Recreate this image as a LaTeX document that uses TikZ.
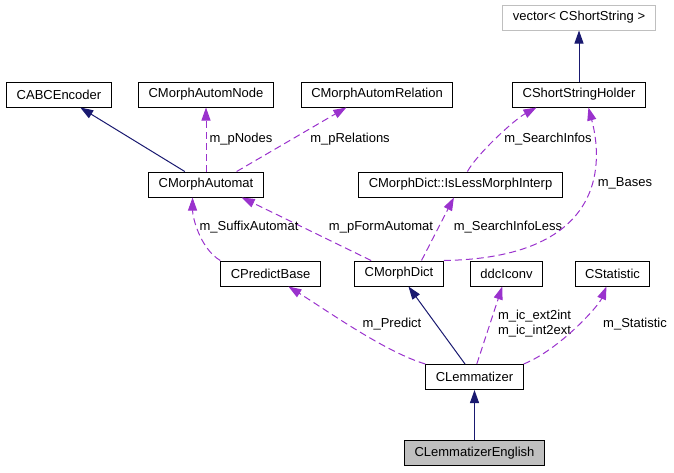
\documentclass[tikz,border=0pt]{standalone}
\usepackage{fontspec}
\setmainfont{Liberation Sans}
\usetikzlibrary{positioning,arrows.meta}
\definecolor{inhblue}{RGB}{25,25,112}
\definecolor{usepurple}{RGB}{154,50,205}
\definecolor{boxgrey}{RGB}{191,191,191}

\begin{document}
\begin{tikzpicture}[x=1pt, y=-1pt, node distance=50pt and 50pt,
  every node/.style={font=\fontsize{13}{15}\selectfont},
  cls/.style={rectangle, draw=black, line width=1pt, minimum height=25pt, inner xsep=10pt, inner ysep=2pt},
  ext/.style={cls, draw=boxgrey},
  inh/.style={-{Triangle[length=13pt,width=9pt]}, color=inhblue, line width=1pt},
  mem/.style={-{Triangle[length=13pt,width=9pt]}, color=usepurple, line width=1pt, dash pattern=on 7pt off 4pt},
  lbl/.style={inner sep=1pt}]
  \useasboundingbox (0,0) rectangle (674,472);

  \node[cls, fill=boxgrey] (lemEn) at (474.5,453) {CLemmatizerEnglish};
  \node[cls] (lem) [above=50pt of lemEn] {CLemmatizer};

  \node[cls] (predict) at (270.5,273.5) {CPredictBase};
  \node[cls] (dict) at (399,273.5) {CMorphDict};
  \node[cls] (iconv) at (506.5,273.5) {ddcIconv};
  \node[cls] (stat) at (612.5,273.5) {CStatistic};

  \node[cls] (automat) at (206,184.5) {CMorphAutomat};
  \node[cls] (isless) at (460.5,184.5) {CMorphDict::IsLessMorphInterp};

  \node[cls] (abc) at (59,94.5) {CABCEncoder};
  \node[cls] (autnode) at (206,94.5) {CMorphAutomNode};
  \node[cls] (autrel) at (377,94.5) {CMorphAutomRelation};
  \node[cls] (holder) at (579,94.5) {CShortStringHolder};
  \node[ext] (vec) [above=51pt of holder] {vector< CShortString >};

  \draw[inh] (lemEn) -- (lem);
  \draw[inh] (lem) -- (dict);
  \draw[inh] (automat) -- (abc);
  \draw[inh] (holder) -- (vec);

  \draw[mem] (lem.north west) .. controls +(-40,-12) and +(40,25) .. (predict.-36);
  \node[lbl] (lPredict) at (392,324) {m\_Predict};
  \draw[mem] (lem.80) -- (iconv);
  \node[lbl, align=left] (lIconv) at (534.5,324) {m\_ic\_ext2int\\m\_ic\_int2ext};
  \draw[mem] (lem.north east) .. controls +(35,-14) and +(-8,20) .. (stat.-115);
  \node[lbl] (lStat) at (635,324) {m\_Statistic};

  \draw[mem] (dict.155) -- (automat.-20);
  \node[lbl] (lForm) at (381,227) {m\_pFormAutomat};
  \draw[mem] (dict.30) -- (isless.-117);
  \node[lbl] (lLess) at (508,227) {m\_SearchInfoLess};
  \draw[mem] (dict.north east) .. controls (600,258) and (605,170) .. (holder.-54);
  \node[lbl] (lBases) at (625,183) {m\_Bases};
  \draw[mem] (predict.north west) .. controls +(-20,-12) and +(0,20) .. (automat.-136);
  \node[lbl] (lSuffix) at (249,227) {m\_SuffixAutomat};

  \draw[mem] (isless.62) .. controls +(10,-18) and +(-22,12) .. (holder.-163);
  \node[lbl] (lInfos) at (548,139) {m\_SearchInfos};
  \draw[mem] (automat) -- (autnode);
  \node[lbl] (lNodes) at (241,139) {m\_pNodes};
  \draw[mem] (automat.23) -- (autrel.-157);
  \node[lbl] (lRel) at (350,139) {m\_pRelations};
\end{tikzpicture}
\end{document}
